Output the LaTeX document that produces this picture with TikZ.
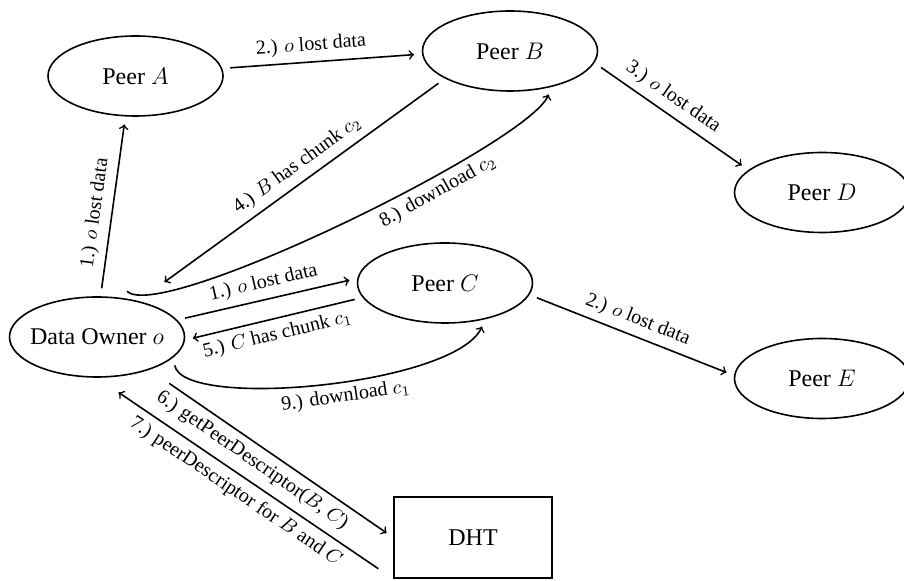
\documentclass[tikz,border=0pt]{standalone}
\usepackage{fontspec}
\setmainfont{Liberation Serif}
\usetikzlibrary{shapes.geometric}

\tikzset{
  peer/.style={draw, thick, ellipse, minimum width=87.5pt, minimum height=40pt, inner xsep=-3pt, font=\large},
  store/.style={draw, thick, rectangle, minimum width=79pt, minimum height=40.5pt, font=\large},
  msg/.style={->, thick, shorten >=4pt, shorten <=4pt},
  lbl/.style={sloped, font=\normalsize}
}

\begin{document}
\begin{tikzpicture}[x=0.5pt,y=-0.5pt]
\useasboundingbox (0,0) rectangle (904,581);

% peers and the DHT
\node[peer] (owner) at (97,337) {Data Owner $o$};
\node[peer] (peerA) at (135.5,76) {Peer $A$};
\node[peer] (peerB) at (510,51) {Peer $B$};
\node[peer] (peerC) at (445,283) {Peer $C$};
\node[peer] (peerD) at (822,192.5) {Peer $D$};
\node[peer] (peerE) at (822,378.5) {Peer $E$};
\node[store] (dht) at (473,537.5) {DHT};

% lost data messages
\draw[msg] (owner.85) -- node[lbl, above, pos=0.45] {1.) $o$ lost data} (peerA.256);
\draw[msg] (peerA.5) -- node[lbl, above, pos=0.45] {2.) $o$ lost data} (peerB.182);
\draw[msg] (peerB.-8) -- node[lbl, above, pos=0.45] {3.) $o$ lost data} (peerD.163);
\draw[msg] (owner.12) -- node[lbl, above] {1.) $o$ lost data} (peerC.177);
\draw[msg] (peerC.-8) -- node[lbl, above] {2.) $o$ lost data} (peerE.178);

% chunk answers
\draw[msg, shorten >=16pt] (peerB.203) -- node[lbl, above, pos=0.45] {4.) $B$ has chunk $c_2$} (owner.41);
\draw[msg] (peerC.190) -- node[lbl, below] {5.) $C$ has chunk $c_1$} (owner.-2);

% lookup in the DHT
\draw[msg, shorten <=12pt] (owner.-32.5) -- node[lbl, below, pos=0.46] {6.) getPeerDescriptor($B$, $C$)} (dht.west);
\draw[msg, shorten <=9pt, shorten >=13pt] (dht.south west) -- node[lbl, below] {7.) peerDescriptor for $B$ and $C$} (owner.south);

% downloads
\draw[msg, shorten <=0pt] ([shift={(30,-5)}]owner.north) .. controls +(33,33) and +(-22,56) .. node[lbl, below, pos=0.65] {8.) download $c_2$} (peerB.-41);
\draw[msg] (owner.-15) .. controls +(9,53) and +(-30,66) .. node[lbl, below, pos=0.55] {9.) download $c_1$} (peerC.-42);
\end{tikzpicture}
\end{document}
